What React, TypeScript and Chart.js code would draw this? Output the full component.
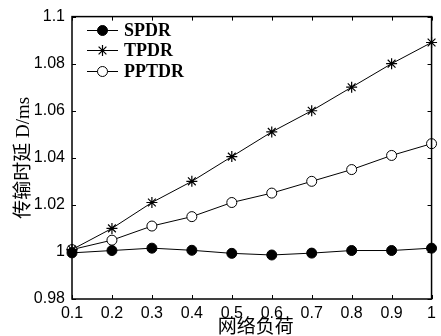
import React, { useEffect, useRef } from "react";
import { Chart, registerables } from "chart.js";

Chart.register(...registerables);

const xValues = [0.1, 0.2, 0.3, 0.4, 0.5, 0.6, 0.7, 0.8, 0.9, 1.0];
const spdr = [0.9996, 1.0006, 1.0016, 1.0007, 0.9994, 0.9987, 0.9995, 1.0006, 1.0006, 1.0016];
const tpdr = [1.001, 1.01, 1.021, 1.03, 1.0405, 1.051, 1.06, 1.07, 1.08, 1.089];
const pptdr = [1.001, 1.005, 1.011, 1.015, 1.021, 1.025, 1.03, 1.035, 1.041, 1.046];
const xTicks = [0.1, 0.2, 0.3, 0.4, 0.5, 0.6, 0.7, 0.8, 0.9, 1.0];
const yTicks = [0.98, 1.0, 1.02, 1.04, 1.06, 1.08, 1.1];
const seriesNames = ["SPDR", "TPDR", "PPTDR"];
const xTitle = "网络负荷";
const yTitle = "传输时延 D/ms";

const fmt = (v: number) => String(Number(v.toFixed(2)));

function drawPointLocal(ctx: CanvasRenderingContext2D, style: string, r: number, x: number, y: number) {
  ctx.beginPath();
  if (style === "circle") {
    ctx.arc(x, y, r, 0, Math.PI * 2);
    ctx.closePath();
    ctx.fill();
    ctx.stroke();
  } else if (style === "star") {
    for (let k = 0; k < 4; k++) {
      const a = (k * Math.PI) / 4;
      ctx.moveTo(x - Math.cos(a) * r, y - Math.sin(a) * r);
      ctx.lineTo(x + Math.cos(a) * r, y + Math.sin(a) * r);
    }
    ctx.stroke();
  }
}

const framePlugin = {
  id: "frame",
  afterDraw(chart: any) {
    const { ctx, chartArea } = chart;
    const { left, right, top, bottom } = chartArea;
    const xs = chart.scales.x;
    const ys = chart.scales.y;
    ctx.save();
    ctx.strokeStyle = "#000";
    ctx.lineWidth = 1.5;
    ctx.strokeRect(left, top, right - left, bottom - top);
    ctx.lineWidth = 1;
    ctx.beginPath();
    xTicks.forEach((v) => {
      const px = Math.round(xs.getPixelForValue(v)) + 0.5;
      ctx.moveTo(px, bottom);
      ctx.lineTo(px, bottom - 4);
      ctx.moveTo(px, top);
      ctx.lineTo(px, top + 4);
    });
    yTicks.forEach((v) => {
      const py = Math.round(ys.getPixelForValue(v)) + 0.5;
      ctx.moveTo(left, py);
      ctx.lineTo(left + 4, py);
      ctx.moveTo(right, py);
      ctx.lineTo(right - 4, py);
    });
    ctx.stroke();

    // titles
    ctx.fillStyle = "#000";
    ctx.font = '19px "Liberation Serif", "Noto Sans CJK SC", serif';
    ctx.textAlign = "center";
    ctx.textBaseline = "middle";
    ctx.fillText(xTitle, (left + right) / 2 + 4, 328);
    ctx.save();
    ctx.translate(24, (top + bottom) / 2);
    ctx.rotate(-Math.PI / 2);
    ctx.fillText(yTitle, 0, 0);
    ctx.restore();

    // legend
    const lx0 = 87;
    const lx1 = 118;
    const rows = [30, 50, 71];
    ctx.font = 'bold 18px "Liberation Serif", serif';
    ctx.textAlign = "left";
    rows.forEach((ry, i) => {
      ctx.strokeStyle = "#000";
      ctx.lineWidth = 1;
      ctx.beginPath();
      ctx.moveTo(lx0, ry + 0.5);
      ctx.lineTo(lx1, ry + 0.5);
      ctx.stroke();
      const ds = chart.data.datasets[i];
      ctx.fillStyle = ds.pointBackgroundColor;
      ctx.strokeStyle = "#000";
      ctx.lineWidth = ds.pointBorderWidth;
      drawPointLocal(ctx, ds.pointStyle, ds.pointRadius, (lx0 + lx1) / 2, ry + 0.5);
      ctx.fillStyle = "#000";
      ctx.fillText(seriesNames[i], 124, ry + 1);
    });
    ctx.restore();
  },
};

export default function App() {
  const ref = useRef<HTMLCanvasElement | null>(null);
  useEffect(() => {
    if (!ref.current) return;
    const mk = (vals: number[]) => xValues.map((x, i) => ({ x, y: vals[i] }));
    const chart = new Chart(ref.current, {
      type: "line",
      data: {
        datasets: [
          {
            label: seriesNames[0],
            data: mk(spdr),
            borderColor: "#000",
            borderWidth: 1,
            pointStyle: "circle",
            pointRadius: 5,
            pointBackgroundColor: "#000",
            pointBorderColor: "#000",
            pointBorderWidth: 1,
          } as any,
          {
            label: seriesNames[1],
            data: mk(tpdr),
            borderColor: "#000",
            borderWidth: 1,
            pointStyle: "star",
            pointRadius: 5.5,
            pointBackgroundColor: "#000",
            pointBorderColor: "#000",
            pointBorderWidth: 1.2,
          } as any,
          {
            label: seriesNames[2],
            data: mk(pptdr),
            borderColor: "#000",
            borderWidth: 1,
            pointStyle: "circle",
            pointRadius: 5,
            pointBackgroundColor: "#fff",
            pointBorderColor: "#000",
            pointBorderWidth: 1,
          } as any,
        ],
      },
      options: {
        animation: false,
        responsive: false,
        maintainAspectRatio: false,
        clip: false as any,
        layout: { padding: { top: 15, right: 8, left: 0, bottom: 0 } },
        plugins: { legend: { display: false }, tooltip: { enabled: false } },
        scales: {
          x: {
            type: "linear",
            min: 0.1,
            max: 1,
            afterBuildTicks: (s: any) => {
              s.ticks = xTicks.map((v) => ({ value: v }));
            },
            afterFit: (s: any) => {
              s.height = 37;
            },
            grid: { display: false, drawTicks: false },
            border: { display: false },
            ticks: {
              color: "#000",
              padding: 5,
              autoSkip: false,
              maxRotation: 0,
              font: { family: '"Liberation Sans", Arial, sans-serif', size: 16 },
              callback: (v: any) => fmt(Number(v)),
            },
          },
          y: {
            type: "linear",
            min: 0.98,
            max: 1.1,
            afterBuildTicks: (s: any) => {
              s.ticks = yTicks.map((v) => ({ value: v }));
            },
            afterFit: (s: any) => {
              s.width = 72;
            },
            grid: { display: false, drawTicks: false },
            border: { display: false },
            ticks: {
              color: "#000",
              padding: 7,
              autoSkip: false,
              font: { family: '"Liberation Sans", Arial, sans-serif', size: 16 },
              callback: (v: any) => fmt(Number(v)),
            },
          },
        },
      },
      plugins: [framePlugin],
    });
    return () => chart.destroy();
  }, []);
  return (
    <div style={{ position: "fixed", left: 0, top: 0, width: 441, height: 336, background: "#fff" }}>
      <canvas ref={ref} width={441} height={336} style={{ width: 441, height: 336, display: "block" }} />
    </div>
  );
}
